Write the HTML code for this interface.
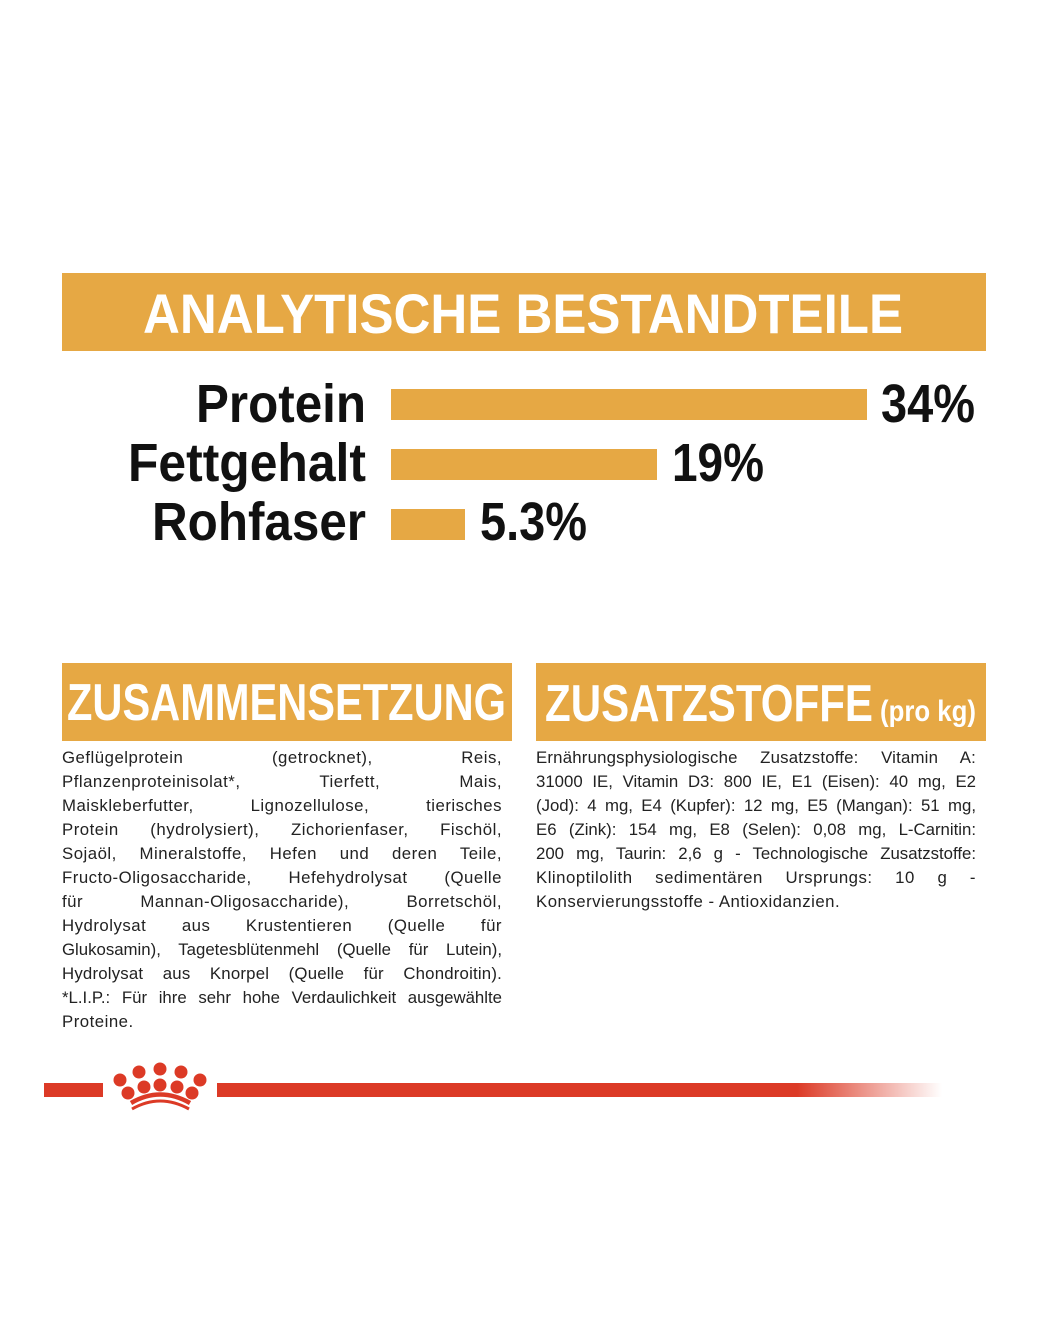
<!DOCTYPE html>
<html><head><meta charset="utf-8"><style>
body{margin:0;background:#fff;width:1049px;height:1327px;position:relative;overflow:hidden;font-family:"Liberation Sans",sans-serif}
.col{position:absolute;width:440px;font-size:16.8px;letter-spacing:0.5px;color:#222;line-height:24px}
.col div{text-align:justify;text-align-last:justify;white-space:nowrap;height:24px}
.col div.l{text-align-last:left}
</style></head><body>
<svg width="1049" height="1327" style="position:absolute;left:0;top:0">
<defs><linearGradient id="g" x1="0" x2="1"><stop offset="0.8" stop-color="#dc3a26"/><stop offset="1" stop-color="#dc3a26" stop-opacity="0"/></linearGradient></defs>
<rect x="62" y="273" width="924" height="78" fill="#e6a844"/>
<text x="143" y="333" font-size="56" font-weight="bold" fill="#fff" textLength="760" lengthAdjust="spacingAndGlyphs">ANALYTISCHE BESTANDTEILE</text>
<g font-weight="bold" font-size="54" fill="#111">
<text x="196" y="422" textLength="170" lengthAdjust="spacingAndGlyphs">Protein</text>
<text x="128" y="481" textLength="238" lengthAdjust="spacingAndGlyphs">Fettgehalt</text>
<text x="152" y="540" textLength="214" lengthAdjust="spacingAndGlyphs">Rohfaser</text>
<text x="881" y="422" textLength="94" lengthAdjust="spacingAndGlyphs">34%</text>
<text x="672" y="481" textLength="92" lengthAdjust="spacingAndGlyphs">19%</text>
<text x="480" y="540" textLength="107" lengthAdjust="spacingAndGlyphs">5.3%</text>
</g>
<rect x="391" y="389" width="476" height="31" fill="#e6a844"/>
<rect x="391" y="449" width="266" height="31" fill="#e6a844"/>
<rect x="391" y="509" width="74" height="31" fill="#e6a844"/>
<rect x="62" y="663" width="450" height="78" fill="#e6a844"/>
<rect x="536" y="663" width="450" height="78" fill="#e6a844"/>
<text x="67" y="720" font-size="52" font-weight="bold" fill="#fff" textLength="439" lengthAdjust="spacingAndGlyphs">ZUSAMMENSETZUNG</text>
<text x="545" y="721" font-size="52" font-weight="bold" fill="#fff" textLength="328" lengthAdjust="spacingAndGlyphs">ZUSATZSTOFFE</text>
<text x="880" y="721" font-size="30" font-weight="bold" fill="#fff" textLength="96" lengthAdjust="spacingAndGlyphs">(pro kg)</text>
<rect x="44" y="1083" width="59" height="14" fill="#dc3a26"/>
<rect x="217" y="1083" width="725" height="14" fill="url(#g)"/>
<g fill="#dc3a26">
<circle cx="120" cy="1080" r="6.5"/><circle cx="139" cy="1072" r="6.5"/><circle cx="160" cy="1069" r="6.5"/><circle cx="181" cy="1072" r="6.5"/><circle cx="200" cy="1080" r="6.5"/>
<circle cx="128" cy="1093" r="6.5"/><circle cx="144" cy="1087" r="6.5"/><circle cx="160" cy="1085" r="6.5"/><circle cx="177" cy="1087" r="6.5"/><circle cx="192" cy="1093" r="6.5"/>
</g>
<path d="M131 1103 Q160 1086 190 1103" stroke="#dc3a26" stroke-width="4.5" fill="none"/>
<path d="M132 1109 Q160 1093 189 1109" stroke="#dc3a26" stroke-width="3" fill="none"/>
</svg>
<div class="col" style="left:62px;top:746px">
<div>Geflügelprotein (getrocknet), Reis,</div>
<div>Pflanzenproteinisolat*, Tierfett, Mais,</div>
<div>Maiskleberfutter, Lignozellulose, tierisches</div>
<div>Protein (hydrolysiert), Zichorienfaser, Fischöl,</div>
<div>Sojaöl, Mineralstoffe, Hefen und deren Teile,</div>
<div>Fructo-Oligosaccharide, Hefehydrolysat (Quelle</div>
<div>für Mannan-Oligosaccharide), Borretschöl,</div>
<div>Hydrolysat aus Krustentieren (Quelle für</div>
<div style="letter-spacing:0">Glukosamin), Tagetesblütenmehl (Quelle für Lutein),</div>
<div style="letter-spacing:0.2px">Hydrolysat aus Knorpel (Quelle für Chondroitin).</div>
<div style="letter-spacing:0">*L.I.P.: Für ihre sehr hohe Verdaulichkeit ausgewählte</div>
<div class="l">Proteine.</div>
</div>
<div class="col" style="left:536px;top:746px">
<div style="letter-spacing:0.2px">Ernährungsphysiologische Zusatzstoffe: Vitamin A:</div>
<div style="letter-spacing:0">31000 IE, Vitamin D3: 800 IE, E1 (Eisen): 40 mg, E2</div>
<div style="letter-spacing:0">(Jod): 4 mg, E4 (Kupfer): 12 mg, E5 (Mangan): 51 mg,</div>
<div style="letter-spacing:0">E6 (Zink): 154 mg, E8 (Selen): 0,08 mg, L-Carnitin:</div>
<div style="letter-spacing:0">200 mg, Taurin: 2,6 g - Technologische Zusatzstoffe:</div>
<div>Klinoptilolith sedimentären Ursprungs: 10 g -</div>
<div class="l">Konservierungsstoffe - Antioxidanzien.</div>
</div>
</body></html>
